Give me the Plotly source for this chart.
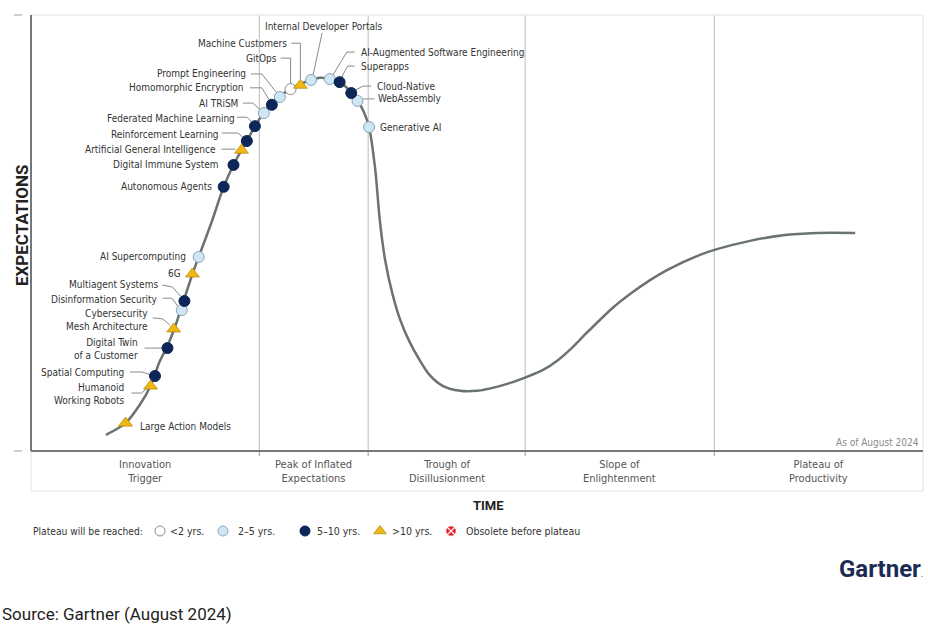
import plotly.graph_objects as go

# ── Data (time 0-100 on x, expectations 0-100 on y) ───────────────────────────
CURVE_T = [8.4, 10.6, 12.2, 13.4, 14.4, 15.3, 16.1, 17.1, 18.1, 18.8, 20.3, 21.6,
           22.7, 23.6, 24.2, 25.1, 26.1, 27.0, 27.9, 29.1, 30.2, 31.4, 32.4, 33.5,
           34.6, 35.9, 36.6, 37.3, 37.9, 38.6, 39.1, 39.7, 40.5, 41.4, 42.4, 43.5,
           44.7, 46.2, 48.1, 50.0, 52.2, 54.0, 55.6, 57.4, 59.1, 60.4, 62.4, 65.2,
           67.5, 69.4, 71.3, 75.0, 76.9, 80.6, 84.3, 88.1, 92.4]
CURVE_E = [3.7, 6.4, 10.6, 14.9, 20.4, 24.1, 28.2, 34.4, 40.6, 44.5, 52.8, 60.6,
           65.6, 69.0, 71.1, 74.5, 77.5, 79.6, 81.4, 83.0, 84.2, 85.1, 85.6, 85.3,
           84.6, 82.3, 80.5, 77.8, 74.3, 64.4, 53.0, 43.8, 36.2, 30.0, 25.2, 21.1,
           17.4, 14.9, 13.8, 13.8, 14.7, 15.8, 17.0, 18.6, 20.9, 23.2, 27.3, 32.8,
           36.5, 39.2, 41.5, 45.0, 46.3, 48.2, 49.5, 50.0, 50.0]

TECH = ['Large Action Models', 'Humanoid<br>Working Robots', 'Spatial Computing',
        'Digital Twin<br>of a Customer', 'Cybersecurity<br>Mesh Architecture',
        'Disinformation Security', 'Multiagent Systems', '6G', 'AI Supercomputing',
        'Autonomous Agents', 'Digital Immune System', 'Artificial General Intelligence',
        'Reinforcement Learning', 'Federated Machine Learning', 'AI TRiSM',
        'Homomorphic Encryption', 'Prompt Engineering', 'GitOps', 'Machine Customers',
        'Internal Developer Portals', 'AI-Augmented Software Engineering', 'Superapps',
        'Cloud-Native', 'WebAssembly', 'Generative AI']
TECH_T = [10.6, 13.4, 13.9, 15.3, 16.0, 16.9, 17.2, 18.1, 18.8, 21.6, 22.7, 23.6,
          24.2, 25.1, 26.1, 27.0, 27.9, 29.1, 30.2, 31.4, 33.5, 34.6, 35.9, 36.6, 37.9]
TECH_E = [6.4, 14.9, 17.2, 23.6, 28.0, 32.3, 34.4, 40.6, 44.5, 60.6, 65.6, 69.0,
          71.1, 74.5, 77.5, 79.4, 81.2, 83.0, 83.9, 85.1, 85.3, 84.6, 82.1, 80.3, 74.3]
TECH_CAT = ['>10', '>10', '5-10', '5-10', '>10', '2-5', '5-10', '>10', '2-5',
            '5-10', '5-10', '>10', '5-10', '5-10', '2-5', '5-10', '2-5', '<2', '>10',
            '2-5', '2-5', '5-10', '5-10', '2-5', '2-5']

PHASES = ['Innovation<br>Trigger', 'Peak of Inflated<br>Expectations',
          'Trough of<br>Disillusionment', 'Slope of<br>Enlightenment',
          'Plateau of<br>Productivity']
PHASE_EDGES = [0, 25.6, 37.8, 55.4, 76.6, 100]

LEGEND_KEYS = ['<2', '2-5', '5-10', '>10', 'obs']
LEGEND_TEXT = ['<2 yrs.', '2–5 yrs.', '5–10 yrs.', '>10 yrs.', 'Obsolete before plateau']

# ── Layout helpers (pixels) ───────────────────────────────────────────────────
W, H = 928, 636
PL, PR, PT, PB = 31, 923, 15, 451
XS = (PR - PL) / 100.0
YS = (PB - PT) / 100.0
def fx(px): return px / W
def fy(py): return 1 - py / H

FONT = 'Liberation Sans Narrow, DejaVu Sans Condensed, Roboto Condensed, Roboto, sans-serif'
TXT = '#333333'

STYLE = {
    '<2':   dict(symbol='circle', size=11, color='white', line=dict(color='#8c8c8c', width=1)),
    '2-5':  dict(symbol='circle', size=11, color='#cfe6f4', line=dict(color='#8aa5bb', width=1)),
    '5-10': dict(symbol='circle', size=11, color='#0c2657', line=dict(color='#0c2657', width=1)),
    '>10':  dict(symbol='triangle-up', size=12, color='#f1b814', line=dict(color='#b88c12', width=0.8)),
    'obs':  dict(symbol='circle-x', size=12, color='#e2272d', line=dict(color='white', width=1.3)),
}

# label placement: (dx, dy px from marker, xanchor, leader offsets in px)
LABEL_POS = {
    'Large Action Models': (12, 3, 'left', []),
    'Humanoid<br>Working Robots': (-24, 8, 'right', [(-19, 7), (-9, 7), (-3, 2)]),
    'Spatial Computing': (-29, -4, 'right', [(-25, -4), (-13, -4), (-4, -1)]),
    'Digital Twin<br>of a Customer': (-27, 1, 'right', [(-23, 0), (-5, 0)]),
    'Cybersecurity<br>Mesh Architecture': (-24, -9, 'right', [(-21, -11), (-11, -10), (-4, -4)]),
    'Disinformation Security': (-23, -11, 'right', [(-19, -12), (-10, -12), (-4, -4)]),
    'Multiagent Systems': (-24, -17, 'right', [(-22, -16), (-12, -14), (-4, -5)]),
    '6G': (-9, 0, 'right', []),
    'AI Supercomputing': (-11, 0, 'right', []),
    'Autonomous Agents': (-10, 0, 'right', []),
    'Digital Immune System': (-12, 0, 'right', []),
    'Artificial General Intelligence': (-24, -1, 'right', [(-20, -1), (-6, -1)]),
    'Reinforcement Learning': (-26, -7, 'right', [(-25, -8), (-9, -8), (-3, -3)]),
    'Federated Machine Learning': (-18, -8, 'right', [(-18, -9), (-8, -9), (-2, -3)]),
    'AI TRiSM': (-24, -10, 'right', [(-21, -10), (-11, -10), (-3, -3)]),
    'Homomorphic Encryption': (-26, -17, 'right', [(-22, -17), (-10, -17), (-2, -4)]),
    'Prompt Engineering': (-32, -23, 'right', [(-29, -23), (-18, -23), (-3, -4)]),
    'GitOps': (-12, -31, 'right', [(-10, -31), (0, -31), (0, -5)]),
    'Machine Customers': (-11, -42, 'right', [(-9, -42), (0, -42), (0, -6)]),
    'Internal Developer Portals': (12, -53, 'center', [(11, -47), (2, -5)]),
    'AI-Augmented Software Engineering': (29, -27, 'left', [(25, -27), (17, -27), (3, -4)]),
    'Superapps': (19, -16, 'left', [(15, -16), (8, -16), (2, -5)]),
    'Cloud-Native': (24, -7, 'left', [(20, -7), (12, -7), (4, -3)]),
    'WebAssembly': (19, -2, 'left', [(17, -2), (5, -2)]),
    'Generative AI': (9, 0, 'left', []),
}

fig = go.Figure()

# phase dividers
shapes = []
for b in PHASE_EDGES[1:-1]:
    shapes.append(dict(type='line', xref='x', yref='y', x0=b, x1=b, y0=0, y1=100,
                       line=dict(color='#bdbdbd', width=1), layer='below'))
    shapes.append(dict(type='line', xref='x', yref='paper', x0=b, x1=b, y0=fy(PB), y1=fy(PB + 5),
                       line=dict(color='#9a9a9a', width=1)))
# frame
shapes += [
    dict(type='line', xref='paper', yref='paper', x0=fx(PL), x1=fx(PR), y0=fy(PT), y1=fy(PT),
         line=dict(color='#e2e2e2', width=1)),
    dict(type='line', xref='paper', yref='paper', x0=fx(PR), x1=fx(PR), y0=fy(PT), y1=fy(491),
         line=dict(color='#e2e2e2', width=1)),
    dict(type='line', xref='paper', yref='paper', x0=fx(PL), x1=fx(PR), y0=fy(491), y1=fy(491),
         line=dict(color='#e2e2e2', width=1)),
    dict(type='line', xref='paper', yref='paper', x0=fx(PL), x1=fx(PL), y0=fy(PB), y1=fy(491),
         line=dict(color='#e2e2e2', width=1)),
    dict(type='line', xref='paper', yref='paper', x0=fx(PL), x1=fx(PL), y0=fy(PT), y1=fy(PB),
         line=dict(color='#4a4a4a', width=1.5)),
    dict(type='line', xref='paper', yref='paper', x0=fx(PL), x1=fx(PR), y0=fy(PB), y1=fy(PB),
         line=dict(color='#777777', width=2)),
    dict(type='line', xref='paper', yref='paper', x0=fx(14), x1=fx(22), y0=fy(PT), y1=fy(PT),
         line=dict(color='#999999', width=1)),
    dict(type='line', xref='paper', yref='paper', x0=fx(14), x1=fx(22), y0=fy(PB), y1=fy(PB),
         line=dict(color='#999999', width=1)),
]

# hype curve
fig.add_trace(go.Scatter(x=CURVE_T, y=CURVE_E, mode='lines', hoverinfo='skip',
                         line=dict(color='#6b7370', width=2.5, shape='spline', smoothing=0.8),
                         showlegend=False))

# leader lines
lx, ly = [], []
for name, t, e in zip(TECH, TECH_T, TECH_E):
    for dx, dy in LABEL_POS[name][3]:
        lx.append(t + dx / XS)
        ly.append(e - dy / YS)
    if LABEL_POS[name][3]:
        lx.append(None); ly.append(None)
fig.add_trace(go.Scatter(x=lx, y=ly, mode='lines', hoverinfo='skip',
                         line=dict(color='#8a8a8a', width=1), showlegend=False))

# technology markers
for key in ['<2', '2-5', '5-10', '>10']:
    idx = [i for i, c in enumerate(TECH_CAT) if c == key]
    st = STYLE[key]
    fig.add_trace(go.Scatter(
        x=[TECH_T[i] for i in idx], y=[TECH_E[i] for i in idx], mode='markers',
        text=[TECH[i].replace('<br>', ' ') for i in idx], hoverinfo='text',
        marker=dict(symbol=st['symbol'], size=st['size'], color=st['color'], line=st['line']),
        showlegend=False))

annotations = []
for name, t, e in zip(TECH, TECH_T, TECH_E):
    dx, dy, anchor, _ = LABEL_POS[name]
    annotations.append(dict(x=t, y=e, xref='x', yref='y', xshift=dx, yshift=-dy,
                            text=name, showarrow=False, xanchor=anchor, yanchor='middle',
                            align='right' if anchor == 'right' else 'left',
                            font=dict(family=FONT, size=10, color=TXT)))

for i, ph in enumerate(PHASES):
    annotations.append(dict(x=(PHASE_EDGES[i] + PHASE_EDGES[i + 1]) / 2, y=fy(472),
                            xref='x', yref='paper', text=ph, showarrow=False,
                            xanchor='center', yanchor='middle', align='center',
                            font=dict(family=FONT, size=11, color='#555555')))

annotations += [
    dict(x=fx(921), y=fy(442), xref='paper', yref='paper', text='As of August 2024',
         showarrow=False, xanchor='right', yanchor='middle',
         font=dict(family=FONT, size=10, color='#8a8a8a')),
    dict(x=fx(488), y=fy(505), xref='paper', yref='paper', text='<b>TIME</b>',
         showarrow=False, xanchor='center', yanchor='middle',
         font=dict(family='Roboto', size=13, color='#222222')),
    dict(x=fx(22), y=fy(225), xref='paper', yref='paper', text='<b>EXPECTATIONS</b>',
         showarrow=False, textangle=-90, xanchor='center', yanchor='middle',
         font=dict(family='Roboto', size=17, color='#222222')),
    dict(x=fx(31), y=fy(531), xref='paper', yref='paper', text='Plateau will be reached:',
         showarrow=False, xanchor='left', yanchor='middle',
         font=dict(family=FONT, size=10.2, color=TXT)),
    dict(x=fx(925), y=fy(569), xref='paper', yref='paper',
         text="<b>Gartner</b><span style='font-size:9px'>.</span>",
         showarrow=False, xanchor='right', yanchor='middle',
         font=dict(family='Roboto', size=24, color='#1c2b55')),
    dict(x=fx(0), y=fy(614), xref='paper', yref='paper', text='Source: Gartner (August 2024)',
         showarrow=False, xanchor='left', yanchor='middle',
         font=dict(family='Roboto', size=17, color='#222222')),
]

# legend row (drawn on a pixel-space overlay axis)
LEG_SYM_X = [160, 223, 305, 380, 451]
LEG_TXT_X = [168, 236, 315, 390, 464]
for key, sx, tx, lab in zip(LEGEND_KEYS, LEG_SYM_X, LEG_TXT_X, LEGEND_TEXT):
    st = STYLE[key]
    fig.add_trace(go.Scatter(x=[sx], y=[531], xaxis='x2', yaxis='y2', mode='markers',
                             hoverinfo='skip', showlegend=False,
                             marker=dict(symbol=st['symbol'], size=st['size'] - 1,
                                         color=st['color'], line=st['line'])))
    annotations.append(dict(x=fx(tx), y=fy(531), xref='paper', yref='paper', text=lab,
                            showarrow=False, xanchor='left', yanchor='middle',
                            font=dict(family=FONT, size=10.5, color=TXT)))

fig.update_layout(
    width=W, height=H,
    margin=dict(l=0, r=0, t=0, b=0),
    paper_bgcolor='white', plot_bgcolor='rgba(0,0,0,0)',
    xaxis=dict(domain=[fx(PL), fx(PR)], range=[0, 100], visible=False, fixedrange=True),
    yaxis=dict(domain=[fy(PB), fy(PT)], range=[0, 100], visible=False, fixedrange=True),
    xaxis2=dict(domain=[0, 1], range=[0, W], visible=False, anchor='y2', fixedrange=True),
    yaxis2=dict(domain=[0, 1], range=[H, 0], visible=False, anchor='x2', fixedrange=True),
    shapes=shapes, annotations=annotations,
    showlegend=False,
)
fig.write_html('out.html', config={'displayModeBar': False},
               post_script="document.body.style.margin='0';document.body.style.overflow='hidden';")
